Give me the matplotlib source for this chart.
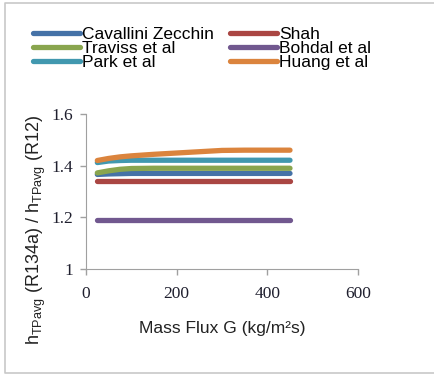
import matplotlib
matplotlib.use("Agg")
import matplotlib.pyplot as plt
from matplotlib.lines import Line2D

# mass flux G (kg/m2s)
mass_flux = [25, 50, 75, 100, 150, 200, 250, 300, 350, 400, 450]

# ratio h_TPavg(R134a) / h_TPavg(R12) for each correlation
cavallini = [1.366, 1.368, 1.369, 1.370, 1.370, 1.370, 1.370, 1.370, 1.370, 1.370, 1.370]
shah = [1.340, 1.340, 1.340, 1.340, 1.340, 1.340, 1.340, 1.340, 1.340, 1.340, 1.340]
traviss = [1.372, 1.380, 1.386, 1.389, 1.390, 1.390, 1.390, 1.390, 1.390, 1.390, 1.390]
bohdal = [1.190, 1.190, 1.190, 1.190, 1.190, 1.190, 1.190, 1.190, 1.190, 1.190, 1.190]
park = [1.412, 1.418, 1.420, 1.421, 1.421, 1.421, 1.421, 1.421, 1.421, 1.421, 1.421]
huang = [1.420, 1.428, 1.434, 1.438, 1.444, 1.449, 1.454, 1.459, 1.460, 1.460, 1.460]

names = ["Cavallini Zecchin", "Shah", "Traviss et al", "Bohdal et al", "Park et al", "Huang et al"]
series = [cavallini, shah, traviss, bohdal, park, huang]
colors = ["#4572A7", "#AA4643", "#89A54E", "#71588F", "#4198AF", "#DB843D"]

plt.rcParams["font.family"] = "Liberation Sans"
plt.rcParams["mathtext.default"] = "regular"

fig = plt.figure(figsize=(4.35, 3.76), dpi=100, facecolor="white")
# light grey frame on the top, left and bottom (screenshot edge)
x0, y0, y1 = 5 / 435, 3 / 376, 1 - 3 / 376
fig.add_artist(Line2D([1.0, x0, x0, 1.0], [y1, y1, y0, y0], transform=fig.transFigure,
                      color="#c8c8c8", linewidth=1.2))

ax = fig.add_axes([86 / 435, 1 - 269 / 376, 272 / 435, 155 / 376])

lines = {}
for name, vals, c in zip(names, series, colors):
    ln, = ax.plot(mass_flux, vals, color=c, linewidth=3.8, solid_capstyle="round",
                  solid_joinstyle="round")
    lines[name] = ln

ax.set_xlim(0, 600)
ax.set_ylim(1, 1.6)
ax.set_xticks([0, 200, 400, 600])
ax.set_yticks([1, 1.2, 1.4, 1.6])
ax.set_yticklabels(["1", "1.2", "1.4", "1.6"])
for lab in ax.get_xticklabels() + ax.get_yticklabels():
    lab.set_family("Liberation Serif")
    lab.set_fontsize(12.5)
    lab.set_color("#1f1f2e")

for s in ["top", "right"]:
    ax.spines[s].set_visible(False)
for s in ["left", "bottom"]:
    ax.spines[s].set_color("#a0a0a0")
ax.tick_params(colors="#a0a0a0", length=4, width=1, labelcolor="#1f1f2e")
ax.tick_params(axis="x", pad=8)
ax.tick_params(axis="y", pad=5)

ax.set_xlabel("Mass Flux G (kg/m\u00b2s)", fontsize=12.5, color="#222222", labelpad=14)
ax.set_ylabel("h$_{TPavg}$ (R134a) / h$_{TPavg}$ (R12)", fontsize=13, color="#222222")
ax.yaxis.set_label_coords(-0.14, 0.25)

# legend laid out row by row like the original: two columns
order = ["Cavallini Zecchin", "Traviss et al", "Park et al", "Shah", "Bohdal et al", "Huang et al"]
fig.legend([lines[n] for n in order], order, loc="upper left",
           bbox_to_anchor=(33 / 435, 1 - 27 / 376), ncol=2, frameon=False,
           fontsize=12.5, handlelength=2.7, handletextpad=0.15, columnspacing=0.9,
           labelspacing=-0.08, borderaxespad=0, borderpad=0)

fig.savefig("out.png", dpi=100, facecolor="white")
